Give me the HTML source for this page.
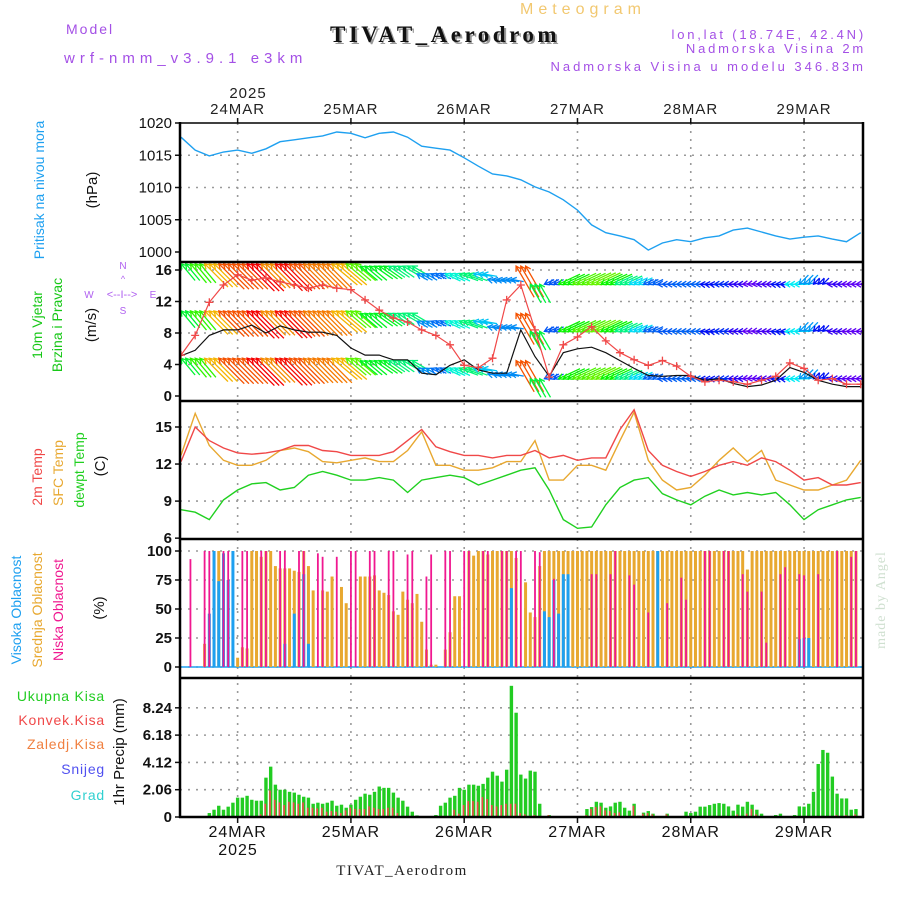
<!DOCTYPE html>
<html><head><meta charset="utf-8">
<style>
html,body{margin:0;padding:0;background:#fff;}
svg{display:block;font-family:"Liberation Sans",sans-serif;}
</style></head>
<body>
<svg id="chart" width="900" height="900" viewBox="0 0 900 900" xmlns="http://www.w3.org/2000/svg">
  <text x="66" y="34" font-size="14" fill="#a450e6" letter-spacing="2">Model</text>
  <text x="64" y="63" font-size="15" fill="#a450e6" letter-spacing="5">wrf-nmm_v3.9.1 e3km</text>
  <text x="520" y="14" font-size="16" fill="#f2c870" letter-spacing="5">Meteogram</text>
  <text x="332" y="44" font-size="23" font-weight="bold" fill="#999" font-family="Liberation Serif,serif" letter-spacing="3.5">TIVAT_Aerodrom</text>
  <text x="330" y="42" font-size="23" font-weight="bold" fill="#111" font-family="Liberation Serif,serif" letter-spacing="3.5">TIVAT_Aerodrom</text>
  <text x="866" y="39" font-size="13" fill="#a450e6" text-anchor="end" letter-spacing="2.8">lon,lat (18.74E, 42.4N)</text>
  <text x="866" y="53" font-size="13" fill="#a450e6" text-anchor="end" letter-spacing="2.8">Nadmorska Visina 2m</text>
  <text x="866" y="71" font-size="13" fill="#a450e6" text-anchor="end" letter-spacing="3">Nadmorska Visina u modelu 346.83m</text>
  <text x="248" y="98" font-size="15" fill="#222" text-anchor="middle" letter-spacing="1">2025</text>
  <text x="402" y="875" font-size="15" fill="#222" text-anchor="middle" font-family="Liberation Serif,serif" letter-spacing="1.5">TIVAT_Aerodrom</text>
  <text x="238" y="855" font-size="16" fill="#111" text-anchor="middle" letter-spacing="1">2025</text>
  <text transform="translate(885,600) rotate(-90)" font-size="14" fill="#cfe0d0" text-anchor="middle" letter-spacing="1" font-family="Liberation Serif,serif">made by Angel</text>

  <text transform="translate(44,190) rotate(-90)" font-size="14" fill="#1ea0f0" text-anchor="middle">Pritisak na nivou mora</text>
  <text transform="translate(97,190) rotate(-90)" font-size="15" fill="#111" text-anchor="middle">(hPa)</text>
  <text transform="translate(42,325) rotate(-90)" font-size="14" fill="#18c818" text-anchor="middle">10m Vjetar</text>
  <text transform="translate(62,325) rotate(-90)" font-size="14" fill="#18c818" text-anchor="middle">Brzina i Pravac</text>
  <text transform="translate(96,325) rotate(-90)" font-size="15" fill="#111" text-anchor="middle">(m/s)</text>
  <g fill="#b060f0" font-size="10" text-anchor="middle">
    <text x="123" y="269">N</text><text x="123" y="314">S</text><text x="89" y="298">W</text><text x="153" y="298">E</text>
    <text x="122" y="298" font-size="11">&lt;--I--&gt;</text>
    <text x="123" y="282" font-size="9">^</text>
  </g>
  <text transform="translate(42,477) rotate(-90)" font-size="14" fill="#f04848" text-anchor="middle">2m Temp</text>
  <text transform="translate(63,473) rotate(-90)" font-size="14" fill="#e8a830" text-anchor="middle">SFC Temp</text>
  <text transform="translate(84,470) rotate(-90)" font-size="14" fill="#20d020" text-anchor="middle">dewpt Temp</text>
  <text transform="translate(105,466) rotate(-90)" font-size="15" fill="#111" text-anchor="middle">(C)</text>
  <text transform="translate(21,610) rotate(-90)" font-size="14" fill="#1ea0f0" text-anchor="middle">Visoka Oblacnost</text>
  <text transform="translate(42,610) rotate(-90)" font-size="14" fill="#e8a830" text-anchor="middle">Srednja Oblacnost</text>
  <text transform="translate(63,610) rotate(-90)" font-size="14" fill="#f01890" text-anchor="middle">Niska Oblacnost</text>
  <text transform="translate(104,608) rotate(-90)" font-size="15" fill="#111" text-anchor="middle">(%)</text>
  <g font-size="14" text-anchor="end" letter-spacing="0.8">
    <text x="105" y="701" fill="#22cc22">Ukupna Kisa</text>
    <text x="105" y="725" fill="#f04848">Konvek.Kisa</text>
    <text x="105" y="749" fill="#f08040">Zaledj.Kisa</text>
    <text x="105" y="774" fill="#5050f0">Snijeg</text>
    <text x="105" y="800" fill="#30d0d0">Grad</text>
  </g>
  <text transform="translate(124,752) rotate(-90)" font-size="15" fill="#111" text-anchor="middle">1hr Precip (mm)</text>
  <g id="plot"></g>
</svg>
<script>
const dayHours = [12, 36, 60, 84, 108, 132];
const dayLabels = ['24MAR', '25MAR', '26MAR', '27MAR', '28MAR', '29MAR'];
const pTicks = [1020, 1015, 1010, 1005, 1000];
const wTicks = [16, 12, 8, 4, 0];
const tTicks = [15, 12, 9, 6];
const cTicks = [100, 75, 50, 25, 0];
const rTicks = [8.24, 6.18, 4.12, 2.06, 0];
const rTickLabels = ['8.24', '6.18', '4.12', '2.06', '0'];
const pressure = [1017.8,1015.8,1014.9,1015.5,1015.8,1015.3,1016.0,1017.1,1017.4,1017.7,1018.0,1018.6,1018.4,1017.7,1018.4,1018.6,1017.8,1016.4,1016.1,1015.8,1014.6,1013.3,1012.1,1011.8,1011.2,1010.1,1009.3,1008.1,1006.5,1004.2,1003.0,1002.5,1001.9,1000.3,1001.4,1001.9,1001.6,1002.2,1002.5,1003.4,1003.7,1003.1,1002.5,1002.0,1002.3,1002.5,1002.0,1001.6,1003.0];
const windSpeed = [5.1,5.8,7.7,8.4,8.4,9.0,8.0,8.9,8.4,8.1,8.1,7.7,6.1,5.2,5.2,4.6,4.6,2.9,2.7,3.9,4.6,3.3,2.9,2.9,8.4,5.0,2.5,5.5,6.0,6.2,5.5,4.5,3.5,2.6,2.5,2.6,2.6,2.0,2.2,1.6,1.2,1.4,2.0,3.6,3.0,2.0,1.5,1.2,1.2];
const windGust = [5.2,7.7,11.9,14.1,15.4,14.7,15.0,14.5,14.1,13.7,14.1,13.7,13.5,12.2,10.9,9.9,9.4,8.4,7.7,6.5,3.9,3.6,4.8,12.2,14.1,8.4,2.4,6.5,7.5,8.8,7.0,5.5,4.6,3.9,4.5,3.8,2.5,1.8,2.0,1.8,1.5,2.0,2.5,4.2,3.5,2.0,2.2,1.5,1.5];
const windDir = [140,140,135,135,135,135,135,135,135,135,135,130,130,130,125,125,120,120,115,115,110,100,100,100,150,150,65,65,65,65,65,65,65,65,90,90,90,95,90,90,85,90,95,90,45,45,90,90,90];
const arrowBase = [4.8,4.8,4.8,4.8,4.8,4.8,4.8,4.8,4.8,4.8,4.8,4.8,4.8,4.5,4.5,4.5,4.5,3.5,3.5,3.5,3.5,3.5,2.8,2.8,4.5,2.2,2.2,2.2,2.2,2.2,2.2,2.2,2.2,2.2,2.2,2.2,2.2,2.2,2.2,2.2,2.2,2.2,2.2,2.2,2.2,2.2,2.2,2.2,2.2];
const temp2m = [12.2,15.0,13.9,13.3,12.9,12.8,12.9,13.1,13.5,13.5,13.1,13.0,12.7,12.7,12.7,13.0,13.9,14.8,13.4,13.0,12.7,12.7,12.5,12.7,12.7,13.1,12.5,12.7,12.3,12.5,12.5,14.8,16.4,13.1,11.9,11.4,11.0,11.4,11.9,12.2,11.9,12.5,12.2,11.5,10.7,10.9,10.3,10.3,10.5];
const tempSfc = [12.7,16.1,13.5,12.3,11.9,11.9,12.3,13.1,13.3,13.0,12.2,12.1,12.3,12.5,12.2,12.2,13.1,14.6,11.9,11.9,11.5,11.5,11.7,12.2,12.2,13.9,10.7,10.7,11.9,11.9,11.5,13.9,16.2,12.3,10.7,9.9,10.1,11.1,12.3,13.3,12.2,13.1,10.7,10.3,9.9,9.9,10.3,10.7,12.3];
const dewpt = [8.3,8.1,7.5,9.1,9.9,10.4,10.5,9.9,10.1,11.1,11.4,11.1,10.7,10.7,10.9,10.7,9.7,10.7,10.9,11.1,10.9,10.3,10.7,11.1,11.5,11.7,9.9,7.5,6.8,6.9,8.7,10.1,10.7,10.9,9.6,9.1,8.7,9.4,9.9,9.5,9.7,9.5,9.7,8.7,7.5,8.3,8.7,9.1,9.3];
const midHours = [5,7,8,11,12,13,14,15,16,17,18,19,20,21,22,23,24,25,26,27,28,30,31,32,34,35,38,39,40,41,42,43,44,45,46,47,48,49,50,51,52,53,54,56,57,58,59,61,62,63,64,65,66,67,68,69,70,71,73,74,75,76,77,78,79,80,81,82,83,84,85,86,87,88,89,90,91,92,93,94,95,96,97,98,99,100,101,102,103,104,105,106,107,108,109,110,111,112,113,114,115,116,117,118,119,120,121,122,123,124,125,126,127,128,129,130,131,132,133,134,135,136,137,138,139,140,141,142,143];
const midCloud = [20,100,100,15,8,17,16,100,100,95,100,100,87,85,85,85,83,82,100,87,66,66,65,78,69,55,78,78,78,79,66,64,62,48,45,65,58,55,63,39,15,2,2,15,30,61,61,100,96,100,100,97,100,100,100,100,100,94,73,47,43,87,100,100,100,100,100,100,100,100,100,100,100,100,100,100,100,100,100,100,100,100,100,100,100,100,100,100,100,100,100,100,100,100,100,100,100,100,100,100,100,100,100,100,100,84,100,100,100,100,100,100,100,100,100,100,100,100,100,100,100,100,100,100,100,100,100,100,100];
const lowHours = [2,5,6,9,10,13,14,17,18,21,22,25,26,29,30,33,36,37,40,41,44,45,48,49,52,53,56,57,60,61,64,65,68,69,71,72,75,76,79,87,88,91,92,95,96,99,103,106,107,111,112,115,116,119,120,123,124,127,128,131,132,135,139,142,143];
const lowCloud = [93,100,100,100,100,100,100,100,100,100,100,100,100,98,95,95,100,100,100,100,100,100,97,100,78,97,100,100,100,100,100,100,100,100,100,100,100,99,76,80,80,80,100,79,71,47,55,77,58,100,100,100,100,80,65,65,21,80,86,80,79,80,100,95,100];
const highHours = [6,7,8,9,10,11,22,24,26,27,70,77,78,79,80,81,82,101,131,132,133];
const highCloud = [46,100,74,98,75,100,20,46,80,20,68,48,43,75,46,80,80,100,24,25,25];
const totalPrecip = [0,0,0,0,0,0,0.3,0.55,0.85,0.55,0.78,1.08,
 1.46,1.46,1.6,1.3,1.23,1.23,2.97,3.8,2.44,2.06,2.06,1.9,
 1.84,1.68,1.53,1.46,1.0,1.08,1.0,1.08,1.23,0.85,0.93,0.7,
 0.93,1.3,1.53,1.76,1.68,1.9,2.3,2.2,2.2,1.84,1.46,1.23,
 0.78,0.4,0.12,0.05,0,0,0.15,0.85,1.08,1.46,1.6,2.2,
 2.06,2.44,2.44,2.36,2.5,2.97,3.42,3.12,2.67,3.57,9.9,7.87,
 3.2,2.9,3.5,3.42,1.0,0,0.15,0,0,0,0,0,
 0,0.05,0.6,0.75,1.15,1.08,0.7,0.8,1.08,1.15,0.7,0.48,
 1.0,0.1,0.33,0.45,0.25,0,0,0.25,0,0,0,0.4,
 0.3,0.4,0.78,0.78,0.9,1.0,1.05,1.0,0.8,0.48,0.93,0.78,
 1.15,0.93,0.55,0.25,0,0,0.15,0.25,0,0,0.15,0.8,
 0.78,1.0,1.9,4.0,5.06,4.85,3.05,1.76,1.4,1.4,0.55,0.6];
const convPrecip = [0,0,0,0,0,0,0,0,0,0,0,0,
 0,0,0,0,0,0.2,1.0,2.0,1.3,1.1,0.9,1.15,
 1.1,1.0,1.1,0.7,0.7,0.65,0.7,0.4,0.45,0.4,0.3,0.5,
 0.7,0.6,0.6,0.6,0.8,0.7,0.6,0.6,0.7,0.7,0.3,0,
 0,0,0,0,0,0,0,0,0,0,0.55,0.25,
 0.9,1.2,1.2,1.15,1.5,1.35,0.9,0.8,0.9,1.0,1.0,1.0,
 0.3,0.2,0,0.15,0,0,0.15,0,0,0,0,0,
 0,0,0.15,0.6,0.75,0.8,0.5,0.45,0.3,0.35,0,0,
 0.85,0,0.25,0.3,0.2,0,0,0.2,0,0,0,0,
 0,0,0,0,0,0,0,0,0,0,0.2,0,
 0.25,0.6,0.2,0,0,0,0,0,0,0,0,0,
 0,0,0,0,0,0,0,0.15,0,0.15,0,0.2];

const L = 180, R = 863;
const X = h => 181 + h * 4.72;
const yP = p => 123 + (1020 - p) * 6.45;
const yW = v => 396 - v * 7.875;
const yT = t => 427 + (15 - t) * 12.35;
const yC = c => 667 - c * 1.16;
const yR = r => 817 - r * 13.25;
const panels = [[123, 262], [262, 401], [401, 539], [539, 678], [678, 817]];

const NS = 'http://www.w3.org/2000/svg';
const plot = document.getElementById('plot');
function mk(tag, attrs, parent) {
  const e = document.createElementNS(NS, tag);
  for (const k in attrs) e.setAttribute(k, attrs[k]);
  (parent || plot).appendChild(e);
  return e;
}
const defs = mk('defs', {});
panels.forEach((p, i) => {
  const cp = mk('clipPath', { id: 'clip' + i }, defs);
  mk('rect', { x: L, y: p[0], width: R - L, height: p[1] - p[0] }, cp);
});

const grid = mk('g', { stroke: '#9a9a9a', 'stroke-width': 1.6, 'stroke-dasharray': '2,6', fill: 'none' });


dayHours.forEach(h => mk('line', { x1: X(h), x2: X(h), y1: 123, y2: 817 }, grid));
pTicks.slice(1, 4).forEach(v => mk('line', { x1: L, x2: R, y1: yP(v), y2: yP(v) }, grid));
wTicks.slice(0, 4).forEach(v => mk('line', { x1: L, x2: R, y1: yW(v), y2: yW(v) }, grid));
tTicks.slice(0, 3).forEach(v => mk('line', { x1: L, x2: R, y1: yT(v), y2: yT(v) }, grid));
cTicks.forEach(v => mk('line', { x1: L, x2: R, y1: yC(v), y2: yC(v) }, grid));
rTicks.slice(0, 4).forEach(v => mk('line', { x1: L, x2: R, y1: yR(v), y2: yR(v) }, grid));

function yLabels(ticks, fn, labels, name, bold) {
  const g = mk('g', { 'font-size': 15, fill: '#111', 'text-anchor': 'end', 'font-weight': bold ? 'bold' : 'normal' });
  
  
  ticks.forEach((v, i) => {
    const t = mk('text', { x: 172, y: fn(v) + 5 }, g);
    t.textContent = labels ? labels[i] : String(v);
    mk('line', { x1: 175, x2: 180, y1: fn(v), y2: fn(v), stroke: '#111', 'stroke-width': 1.5 }, g);
  });
}
yLabels(pTicks, yP, null, 'pressure-y-ticks', false);
yLabels(wTicks, yW, null, 'wind-y-ticks', true);
yLabels(tTicks, yT, null, 'temp-y-ticks', true);
yLabels(cTicks, yC, null, 'cloud-y-ticks', true);
yLabels(rTicks, yR, rTickLabels, 'precip-y-ticks', true);

const topX = mk('g', { 'font-size': 15, fill: '#222', 'text-anchor': 'middle', 'letter-spacing': 1 });


const botX = mk('g', { 'font-size': 16, fill: '#111', 'text-anchor': 'middle', 'letter-spacing': 1 });


dayHours.forEach((h, i) => {
  const a = mk('text', { x: X(h), y: 114 }, topX); a.textContent = dayLabels[i];
  const b = mk('text', { x: X(h), y: 837 }, botX); b.textContent = dayLabels[i];
  mk('line', { x1: X(h), x2: X(h), y1: 118, y2: 123, stroke: '#111', 'stroke-width': 1.5 }, topX);
  mk('line', { x1: X(h), x2: X(h), y1: 817, y2: 823, stroke: '#111', 'stroke-width': 1.5 }, botX);
});

function linePath(arr, fy) {
  return arr.map((v, k) => (k ? 'L' : 'M') + X(3 * k).toFixed(1) + ',' + fy(v).toFixed(1)).join('');
}

const pl = mk('path', { d: linePath(pressure, yP), fill: 'none', stroke: '#1ea0f0', 'stroke-width': 1.4, 'clip-path': 'url(#clip0)' });



const wg = mk('g', { 'clip-path': 'url(#clip1)', 'stroke-width': 1.3, fill: 'none' });


function windColor(v) {
  const hue = Math.max(0, Math.min(280, (9 - v) / 8 * 270));
  return 'hsl(' + hue.toFixed(0) + ',100%,48%)';
}
windDir.forEach((d, k) => {
  const sp = windSpeed[k];
  const ang = (d + 180) * Math.PI / 180;
  const ux = Math.sin(ang), uy = -Math.cos(ang);
  const len = Math.max(7, sp * 4.3);
  const col = windColor(sp);
  [-1, 0, 1].forEach(off => {
    const h = 3 * k + off;
    if (h < 0 || h > 144) return;
    [-6, 0, 6, 12].forEach(rowOff => {
      const hx = X(h), hy = yW(arrowBase[k] + rowOff);
      const tx = hx - ux * len, ty = hy - uy * len;
      const a = mk('path', {
        d: 'M' + tx.toFixed(1) + ',' + ty.toFixed(1) + 'L' + hx.toFixed(1) + ',' + hy.toFixed(1) +
          'M' + (hx - ux * 5 + uy * 3).toFixed(1) + ',' + (hy - uy * 5 - ux * 3).toFixed(1) + 'L' + hx.toFixed(1) + ',' + hy.toFixed(1) +
          'L' + (hx - ux * 5 - uy * 3).toFixed(1) + ',' + (hy - uy * 5 + ux * 3).toFixed(1),
        stroke: col
      }, wg);
      
      
    });
  });
});
const sl = mk('path', { d: linePath(windSpeed, yW), fill: 'none', stroke: '#111', 'stroke-width': 1.2, 'clip-path': 'url(#clip1)' });


const gl = mk('path', { d: linePath(windGust, yW), fill: 'none', stroke: '#f04848', 'stroke-width': 1.2, 'clip-path': 'url(#clip1)' });


const gm = mk('g', { stroke: '#f04848', 'stroke-width': 1.3, 'clip-path': 'url(#clip1)' });


windGust.forEach((v, k) => {
  const x = X(3 * k), y = yW(v);
  const m = mk('path', { d: 'M' + (x - 4) + ',' + y + 'h8M' + x + ',' + (y - 4) + 'v8' }, gm);
  
  
});

[[tempSfc, '#e8a830', 'sfc-temp-line'], [temp2m, '#f04848', 'temp-2m-line'], [dewpt, '#20d020', 'dewpoint-line']].forEach(s => {
  const e = mk('path', { d: linePath(s[0], yT), fill: 'none', stroke: s[1], 'stroke-width': 1.4, 'clip-path': 'url(#clip2)' });
  
  
});

const cb = mk('line', { x1: L, x2: R, y1: 667, y2: 667, stroke: '#1ea0f0', 'stroke-width': 1.5 });


function cloudBars(hours, vals, color, w, name) {
  const g = mk('g', { fill: color, 'clip-path': 'url(#clip3)' });
  
  
  hours.forEach((h, i) => {
    const y = yC(vals[i]);
    const r = mk('rect', { x: X(h) - w / 2, y: y, width: w, height: 667 - y }, g);
    
    
  });
}
cloudBars(midHours, midCloud, '#e8a830', 3, 'mid-cloud-bars');
cloudBars(highHours, highCloud, '#1ea0f0', 3, 'high-cloud-bars');
cloudBars(lowHours, lowCloud, '#f01890', 1.8, 'low-cloud-bars');

const pg = mk('g', { 'clip-path': 'url(#clip4)' });


totalPrecip.forEach((v, h) => {
  if (v <= 0) return;
  const y = yR(v);
  const b = mk('rect', { x: X(h) - 1.7, y: y, width: 3.4, height: 817 - y, fill: '#22cc22' }, pg);
  
  
});
convPrecip.forEach((v, h) => {
  if (v <= 0) return;
  const y = yR(v);
  const b = mk('rect', { x: X(h) - 1.5, y: y, width: 1.6, height: 817 - y, fill: '#f04848' }, pg);
  
  
});

const fr = mk('g', { stroke: '#000', 'stroke-width': 2.5, fill: 'none' });


mk('line', { x1: L, x2: L, y1: 122, y2: 818 }, fr);
mk('line', { x1: R, x2: R, y1: 122, y2: 818 }, fr);
mk('line', { x1: L, x2: R, y1: 123, y2: 123, 'stroke-width': 1.5 }, fr);
[262, 401, 539, 678, 817].forEach(y => mk('line', { x1: L - 1, x2: R + 1, y1: y, y2: y }, fr));
</script>
</body></html>
